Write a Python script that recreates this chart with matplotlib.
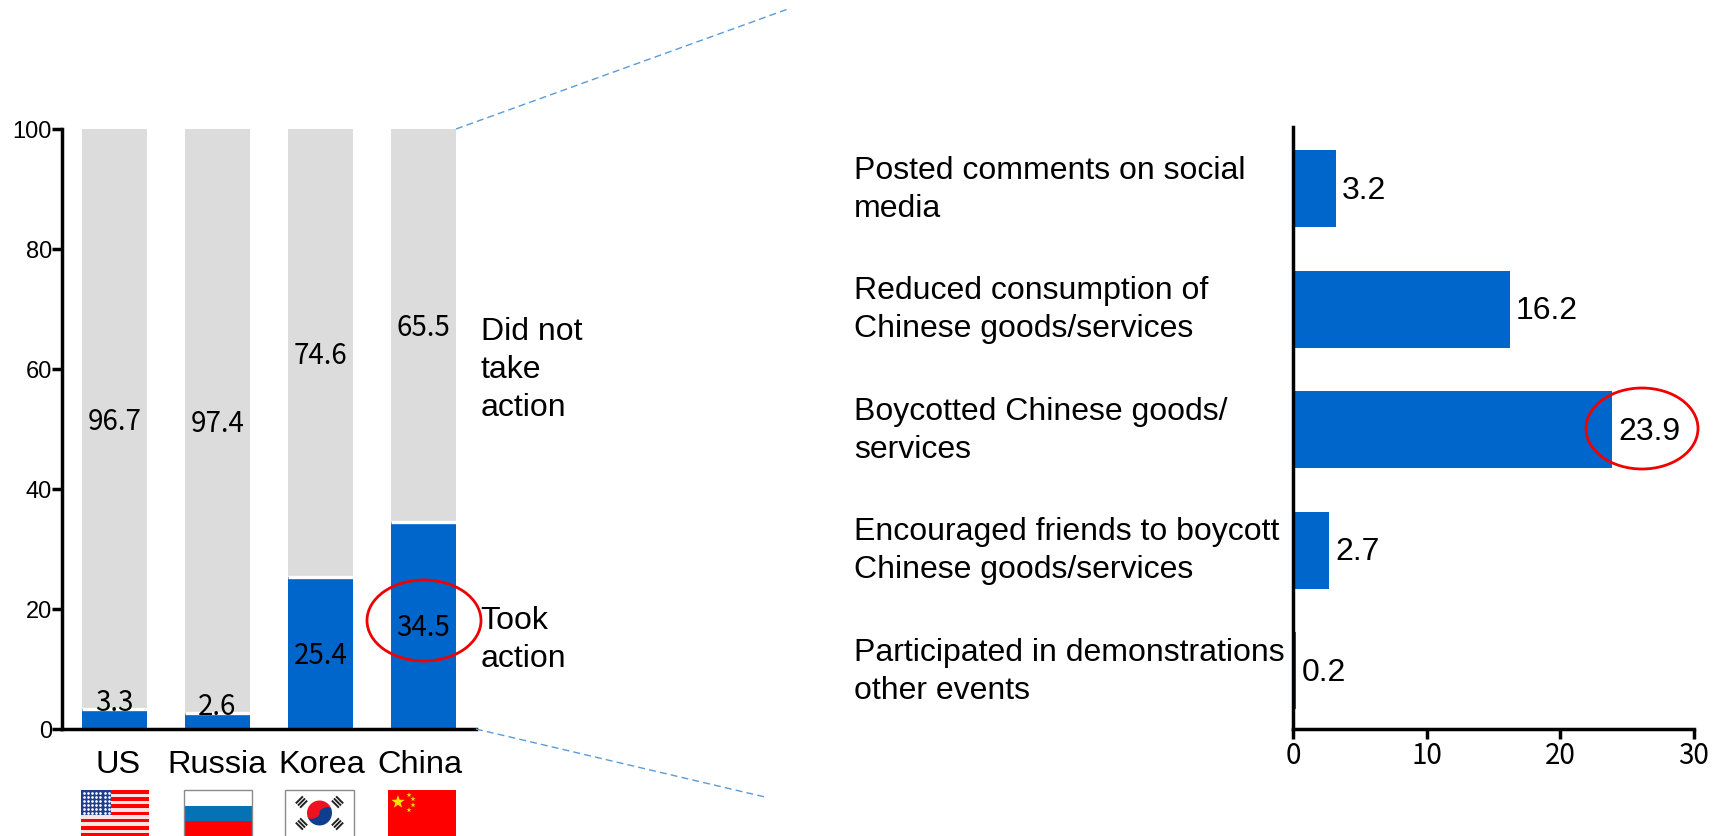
import matplotlib
matplotlib.use("Agg")
import matplotlib.pyplot as plt
from matplotlib.patches import Rectangle, Ellipse, Wedge, Polygon
import numpy as np

plt.rcParams['font.family'] = ['Liberation Sans', 'DejaVu Sans']

# === Datos ===
countries = ["US", "Russia", "Korea", "China"]
took_action = [3.3, 2.6, 25.4, 34.5]
no_action = [96.7, 97.4, 74.6, 65.5]

actions = [
    "Posted comments on social\nmedia",
    "Reduced consumption of\nChinese goods/services",
    "Boycotted Chinese goods/\nservices",
    "Encouraged friends to boycott\nChinese goods/services",
    "Participated in demonstrations\nother events",
]
action_values = [3.2, 16.2, 23.9, 2.7, 0.2]

BLUE = "#0066CC"
GRAY = "#DCDCDC"
W, H = 1721, 836
BAR_W = 0.635
# Ajuste horizontal de cada etiqueta de país, en puntos
NAME_DX = [2.4, 0, 0.8, -2.4]


def box(x0, x1, y0, y1):
    return [x0 / W, 1 - y1 / H, (x1 - x0) / W, (y1 - y0) / H]


fig = plt.figure(figsize=(W / 100, H / 100), dpi=100)

# === Capa en píxeles para líneas punteadas, elipses y banderas ===
over = fig.add_axes([0, 0, 1, 1], zorder=5)
over.set_xlim(0, W)
over.set_ylim(H, 0)
over.axis("off")
over.patch.set_alpha(0)

# === Barras apiladas ===
ax = fig.add_axes(box(62.5, 476, 129, 729))
x = np.arange(len(countries))
ax.bar(x, took_action, width=BAR_W, color=BLUE)
ax.bar(x, no_action, width=BAR_W, bottom=took_action, color=GRAY)
# Separación blanca entre los dos tramos
ax.hlines(took_action, x - BAR_W / 2, x + BAR_W / 2, color="white", lw=2.4)
ax.set_xlim(-0.505, 3.51)
ax.set_ylim(0, 100)
ax.set_yticks(range(0, 101, 20))
ax.set_xticks([])
ax.tick_params(axis="y", labelsize=17, width=2.5, length=7, pad=0.5)
for s in ["top", "right"]:
    ax.spines[s].set_visible(False)
for s in ["left", "bottom"]:
    ax.spines[s].set_linewidth(2.5)

for i, name in enumerate(countries):
    ax.annotate(name, (i, 0), xytext=(NAME_DX[i], -15), textcoords="offset points",
                ha="center", va="top", fontsize=23.4)
    low_y = took_action[i] / 2 if took_action[i] > 10 else took_action[i] + 1.5
    ax.annotate(f"{took_action[i]}", (i, low_y), xytext=(0, -2), textcoords="offset points",
                ha="center", va="center", fontsize=20, family="Noto Sans CJK JP")
    ax.annotate(f"{no_action[i]}", (i, took_action[i] + no_action[i] / 2), xytext=(0, -2),
                textcoords="offset points", ha="center", va="center", fontsize=20,
                family="Noto Sans CJK JP")

ax.text(3.555, 59.8, "Did not\ntake\naction", fontsize=23, va="center", linespacing=1.35, clip_on=False)
ax.text(3.555, 14.8, "Took\naction", fontsize=23, va="center", linespacing=1.35, clip_on=False)

# === Barras horizontales ===
ax2 = fig.add_axes(box(1293, 1694, 127, 729))
y = np.arange(len(actions))
ax2.barh(y, action_values, height=0.64, color=BLUE)
ax2.set_xlim(0, 30)
ax2.set_ylim(4.485, -0.511)
ax2.set_xticks(range(0, 31, 10))
ax2.set_yticks([])
ax2.tick_params(axis="x", labelsize=20, width=2.5, length=7, pad=2)
for t in ax2.get_xticklabels():
    t.set_fontfamily("Noto Sans CJK JP")
for s in ["top", "right"]:
    ax2.spines[s].set_visible(False)
for s in ["left", "bottom"]:
    ax2.spines[s].set_linewidth(2.5)

for i, (label, val) in enumerate(zip(actions, action_values)):
    ax2.annotate(f"{val}", (val, i), xytext=(4.5, -1.5), textcoords="offset points",
                 va="center", fontsize=23)
    ax2.annotate(label, (0, i), xytext=(-316, -1), textcoords="offset points",
                 va="center", ha="left", fontsize=23, linespacing=1.35, annotation_clip=False)

# === Líneas punteadas del zoom ===
over.plot([456, 788], [129, 9], color="#5B9BD5", lw=1, ls=(0, (5, 3)))
over.plot([476, 765], [729, 797], color="#5B9BD5", lw=1, ls=(0, (5, 3)))

# === Elipses rojas ===
over.add_patch(Ellipse((424, 620.5), 114, 81, fill=False, edgecolor="#F00000", lw=2))
over.add_patch(Ellipse((1642, 428.5), 112, 81, fill=False, edgecolor="#F00000", lw=2))

# === Banderas ===
FLAG_TOP = 790


def bandera_us(x0, x1):
    over.add_patch(Rectangle((x0, FLAG_TOP), x1 - x0, 46, color="#FBE3E3", lw=0))
    h = 3.6
    for k in range(0, 13, 2):
        over.add_patch(Rectangle((x0, FLAG_TOP + k * h), x1 - x0, h, color="#FF0000", lw=0))
    over.add_patch(Rectangle((x0, FLAG_TOP), 30, 24.5, color="#1F3E8E", lw=0))
    for r in range(6):
        for c in range(7):
            over.plot(x0 + 2.5 + c * 4.2, FLAG_TOP + 2.5 + r * 4, ".", color="white", ms=1.8)


def bandera_ru(x0, x1):
    over.add_patch(Rectangle((x0, FLAG_TOP), x1 - x0, 16, facecolor="white", edgecolor="none"))
    over.add_patch(Rectangle((x0, FLAG_TOP + 16), x1 - x0, 15, color="#0572B5", lw=0))
    over.add_patch(Rectangle((x0, FLAG_TOP + 31), x1 - x0, 15, color="#FF0000", lw=0))
    over.add_patch(Rectangle((x0, FLAG_TOP), x1 - x0, 50, fill=False, edgecolor="#8A8A8A", lw=1))


def trigrama(cx, cy, ang):
    t = np.radians(ang)
    d = np.array([np.cos(t), np.sin(t)])
    n = np.array([-d[1], d[0]])
    for k in (-3, 0, 3):
        c = np.array([cx, cy]) + d * k
        a, b = c - n * 5, c + n * 5
        over.plot([a[0], b[0]], [a[1], b[1]], color="#222222", lw=1.4, solid_capstyle="butt")


def bandera_kr(x0, x1):
    over.add_patch(Rectangle((x0, FLAG_TOP), x1 - x0, 50, facecolor="white", edgecolor="#8A8A8A", lw=1))
    cx, cy = (x0 + x1) / 2, FLAG_TOP + 23
    over.add_patch(Wedge((cx, cy), 12.5, 160, 340, color="#F01020", lw=0))
    over.add_patch(Wedge((cx, cy), 12.5, 340, 160, color="#0F3E8E", lw=0))
    # Curva en S aplanada entre las dos mitades
    dx, dy = 6.2 * np.cos(np.radians(-20)), 6.2 * np.sin(np.radians(-20))
    over.add_patch(Ellipse((cx + dx, cy + dy), 12.4, 6.5, angle=-20, color="#0F3E8E", lw=0))
    over.add_patch(Ellipse((cx - dx, cy - dy), 12.4, 6.5, angle=-20, color="#F01020", lw=0))
    for sx, sy, ang in [(-1, -1, 45), (1, -1, -45), (-1, 1, -45), (1, 1, 45)]:
        trigrama(cx + sx * 18, cy + sy * 11, ang)


def estrella(cx, cy, r):
    ang = np.radians(np.arange(0, 360, 36) - 90)
    rad = np.where(np.arange(10) % 2 == 0, r, r * 0.4)
    over.add_patch(Polygon(np.c_[cx + rad * np.cos(ang), cy + rad * np.sin(ang)], color="#FFE000", lw=0))


def bandera_cn(x0, x1):
    over.add_patch(Rectangle((x0, FLAG_TOP), x1 - x0, 46, color="#FF0000", lw=0))
    estrella(x0 + 10, FLAG_TOP + 12, 7)
    for dx, dy in [(21, 5), (25, 9), (25, 15), (21, 20)]:
        estrella(x0 + dx, FLAG_TOP + dy, 2.6)


bandera_us(81, 149)
bandera_ru(184, 252)
bandera_kr(285, 354)
bandera_cn(388, 456)

plt.savefig("out.png", dpi=100)
